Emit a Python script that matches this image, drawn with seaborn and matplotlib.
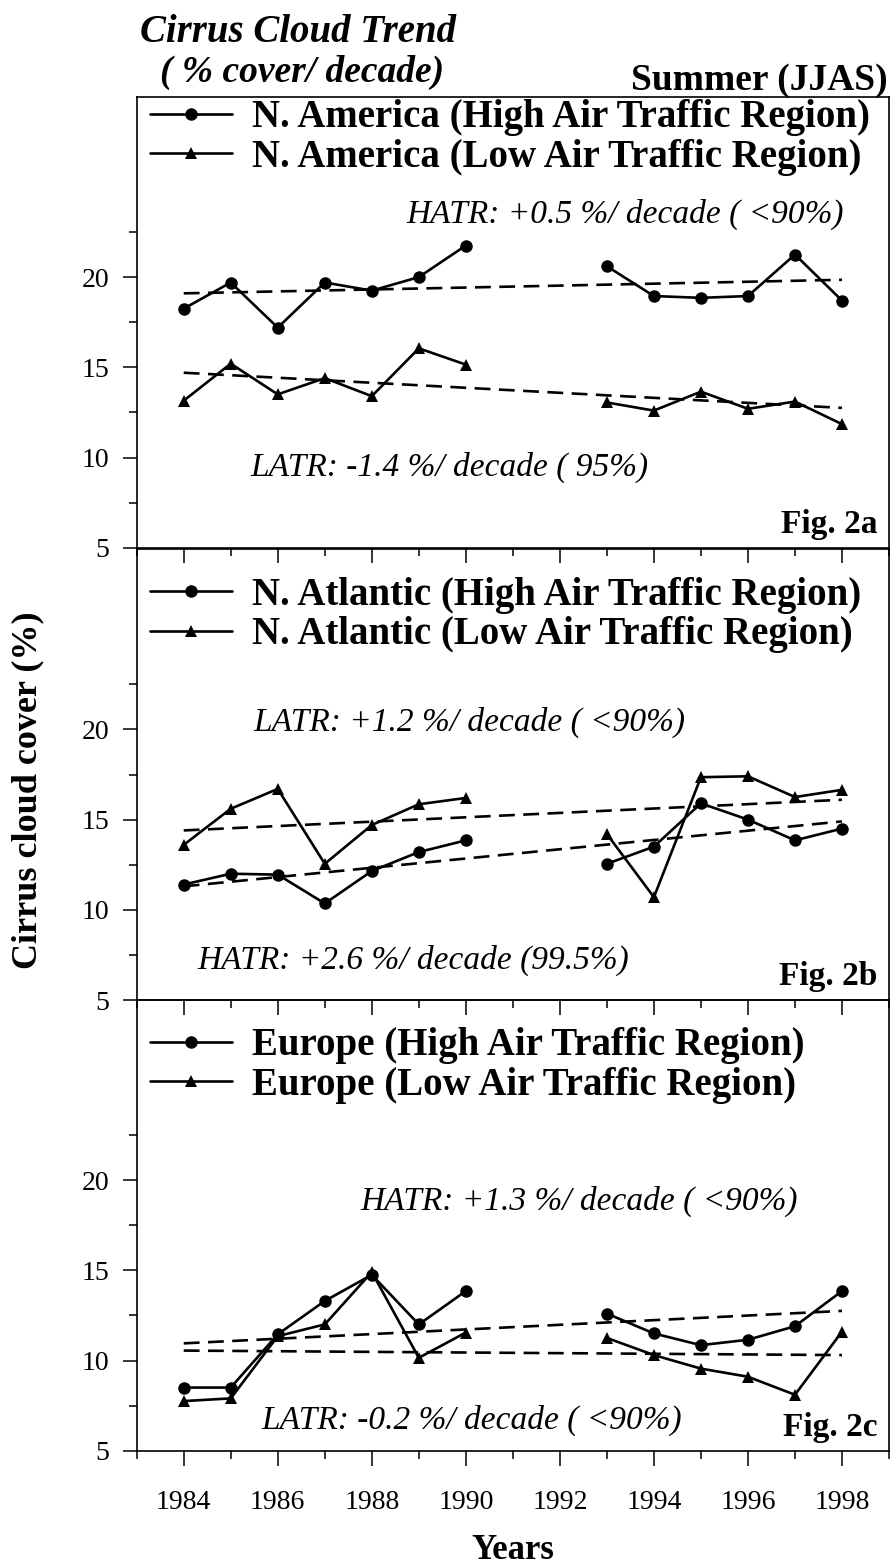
import numpy as np
import pandas as pd
import matplotlib
matplotlib.use("Agg")
import matplotlib.pyplot as plt
from matplotlib.lines import Line2D
from matplotlib.ticker import MultipleLocator, FixedLocator
import seaborn as sns

# ---------------- data ----------------
years = [1984, 1985, 1986, 1987, 1988, 1989, 1990, 1993, 1994, 1995, 1996, 1997, 1998]
period = [1, 1, 1, 1, 1, 1, 1, 2, 2, 2, 2, 2, 2]

na_high = [18.25, 19.7, 17.2, 19.7, 19.25, 20.0, 21.75, 20.6, 18.95, 18.85, 18.95, 21.25, 18.7]
na_low = [13.15, 15.2, 13.5, 14.4, 13.4, 16.05, 15.15, 13.05, 12.6, 13.65, 12.7, 13.1, 11.85]
at_high = [11.4, 12.0, 11.95, 10.35, 12.15, 13.2, 13.85, 12.55, 13.5, 15.9, 15.0, 13.85, 14.5]
at_low = [13.6, 15.6, 16.7, 12.55, 14.7, 15.85, 16.2, 14.2, 10.7, 17.35, 17.4, 16.25, 16.65]
eu_high = [8.5, 8.5, 11.45, 13.3, 14.75, 12.0, 13.85, 12.6, 11.5, 10.85, 11.15, 11.9, 13.85]
eu_low = [7.75, 7.9, 11.35, 12.0, 14.9, 10.15, 11.55, 11.25, 10.3, 9.55, 9.1, 8.1, 11.6]

trend_years = [1984, 1998]
na_high_trend = [19.1, 19.85]
na_low_trend = [14.7, 12.75]
at_high_trend = [11.3, 14.9]
at_low_trend = [14.4, 16.1]
eu_high_trend = [10.95, 12.75]
eu_low_trend = [10.55, 10.3]

regions = ["N. America", "N. Atlantic", "Europe"]
fig_tags = ["Fig. 2a", "Fig. 2b", "Fig. 2c"]
hatr_text = ["HATR: +0.5 %/ decade ( <90%)", "HATR: +2.6 %/ decade (99.5%)", "HATR: +1.3 %/ decade ( <90%)"]
latr_text = ["LATR: -1.4 %/ decade ( 95%)", "LATR: +1.2 %/ decade ( <90%)", "LATR: -0.2 %/ decade ( <90%)"]
xtick_labels = ["1984", "1986", "1988", "1990", "1992", "1994", "1996", "1998"]

# ---------------- style ----------------
sns.set_theme(style="white")
plt.rcParams["font.family"] = ["Liberation Serif", "DejaVu Serif"]
plt.rcParams["text.color"] = "black"
plt.rcParams["axes.labelcolor"] = "black"
plt.rcParams["xtick.color"] = "black"
plt.rcParams["ytick.color"] = "black"
plt.rcParams["axes.edgecolor"] = "black"

W, H = 893, 1564
fig = plt.figure(figsize=(W / 100, H / 100), dpi=100)

left = 136.7 / W
width = 752.3 / W
ph = 451.0 / H
bottoms = [1 - 547.7 / H, 1 - 1000.0 / H, 1 - 1450.7 / H]

highs = [na_high, at_high, eu_high]
lows = [na_low, at_low, eu_low]
htr = [na_high_trend, at_high_trend, eu_high_trend]
ltr = [na_low_trend, at_low_trend, eu_low_trend]

# annotation positions (axes fraction)
hatr_pos = [(0.359, 0.738), (0.080, 0.088), (0.297, 0.552)]
latr_pos = [(0.151, 0.177), (0.155, 0.615), (0.166, 0.068)]
legend_top = [0.994, 0.938, 0.939]

axes = []
for i in range(3):
    ax = fig.add_axes([left, bottoms[i], width, ph])
    ax.patch.set_visible(False)
    ax.set_zorder(10 - i)
    df = pd.DataFrame({
        "year": years * 2,
        "value": highs[i] + lows[i],
        "series": ["High"] * len(years) + ["Low"] * len(years),
        "period": period * 2,
    })
    sns.lineplot(data=df, x="year", y="value", style="series", units="period",
                 estimator=None, markers={"High": "o", "Low": "^"},
                 dashes={"High": "", "Low": ""}, color="black", linewidth=1.9,
                 markersize=9, markeredgewidth=0, legend=False, ax=ax, zorder=3)
    ax.plot(trend_years, htr[i], color="black", lw=1.9, dashes=(6, 3.2), zorder=2)
    ax.plot(trend_years, ltr[i], color="black", lw=1.9, dashes=(6, 3.2), zorder=2)

    ax.set_xlim(1983, 1999)
    ax.set_ylim(5, 30)
    ax.yaxis.set_major_locator(FixedLocator([5, 10, 15, 20]))
    ax.yaxis.set_minor_locator(FixedLocator([7.5, 12.5, 17.5, 22.5]))
    ax.xaxis.set_major_locator(MultipleLocator(2))
    ax.xaxis.set_minor_locator(MultipleLocator(1))
    ax.set_xlabel("")
    ax.set_ylabel("")
    for s in ax.spines.values():
        s.set_color("black")
        s.set_linewidth(1.2)
    ax.tick_params(axis="x", which="major", direction="out", length=11, width=1.1,
                   color="black", labelcolor="black", labelsize=20, pad=17,
                   bottom=True, top=False)
    ax.tick_params(axis="x", which="minor", direction="out", length=6, width=1.1,
                   color="black", bottom=True, top=False)
    ax.tick_params(axis="y", which="major", direction="out", length=10, width=1.1,
                   color="black", labelcolor="black", labelsize=20, pad=10,
                   left=True, right=False)
    ax.tick_params(axis="y", which="minor", direction="out", length=5.5, width=1.1,
                   color="black", left=True, right=False)
    if i < 2:
        ax.tick_params(axis="x", labelbottom=False)
    else:
        ax.set_xticks([1984 + 2 * k for k in range(8)])
        ax.set_xticklabels(xtick_labels)

    # legend
    handles = [
        Line2D([], [], color="black", lw=1.9, marker="o", markersize=9, markeredgewidth=0),
        Line2D([], [], color="black", lw=1.9, marker="^", markersize=9, markeredgewidth=0),
    ]
    labels = [f"{regions[i]} (High Air Traffic Region)", f"{regions[i]} (Low Air Traffic Region)"]
    leg = ax.legend(handles, labels, loc="upper left", bbox_to_anchor=(0.0177, legend_top[i]),
                    frameon=False, borderaxespad=0, borderpad=0, handlelength=2.1,
                    handletextpad=0.51, labelspacing=0.06,
                    prop={"family": "Liberation Serif", "weight": "bold", "size": 28})
    for t in leg.get_texts():
        t.set_color("black")

    ax.text(hatr_pos[i][0], hatr_pos[i][1], hatr_text[i], transform=ax.transAxes,
            ha="left", va="center", fontsize=24, style="italic", color="black")
    ax.text(latr_pos[i][0], latr_pos[i][1], latr_text[i], transform=ax.transAxes,
            ha="left", va="center", fontsize=24, style="italic", color="black")
    ax.text(0.985, 0.033, fig_tags[i], transform=ax.transAxes, ha="right", va="baseline",
            fontsize=24, fontweight="bold", color="black")
    axes.append(ax)

fig.text((136.7 + 889) / 2 / W, 1 - 1559 / H, "Years", ha="center", va="baseline",
         fontsize=25, fontweight="bold", color="black")

fig.text(140 / W, 1 - 32 / H, "Cirrus Cloud Trend", ha="left", va="center",
         fontsize=28, fontweight="bold", style="italic", color="black")
fig.text(160 / W, 1 - 72 / H, "( % cover/ decade)", ha="left", va="center",
         fontsize=27, fontweight="bold", style="italic", color="black")
fig.text(888 / W, 1 - 90 / H, "Summer (JJAS)", ha="right", va="baseline",
         fontsize=27, fontweight="bold", color="black")
fig.text(28 / W, 1 - 790 / H, "Cirrus cloud cover (%)", ha="center", va="center",
         rotation=90, fontsize=26, fontweight="bold", color="black")

fig.savefig("out.png", dpi=100)
